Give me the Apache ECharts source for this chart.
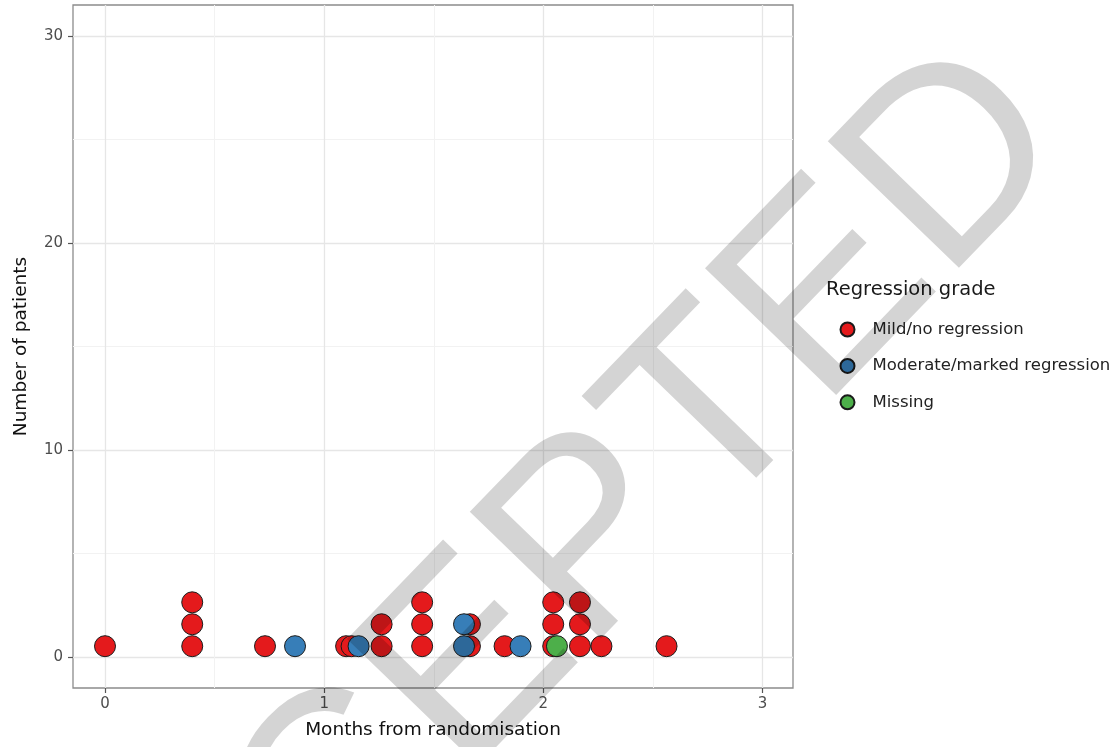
<!DOCTYPE html>
<html>
<head>
<meta charset="utf-8">
<script src="https://cdn.jsdelivr.net/npm/echarts@6/dist/echarts.min.js"></script>
<style>
html,body{margin:0;padding:0;background:#fff;}
#chart{width:1120px;height:747px;}
</style>
</head>
<body>
<div id="chart"></div>
<script>
// ---- data ----
const xTickValues = [0, 1, 2, 3];
const xMinorValues = [0.5, 1.5, 2.5];
const yTickValues = [0, 10, 20, 30];
const yMinorValues = [5, 15, 25];

const groupNames = ['Mild/no regression', 'Moderate/marked regression', 'Missing'];
const groupColors = ['#E41A1C', '#377EB8', '#4DAF4A'];

// months from randomisation and stacked dot height (patients)
const mildMonths  = [0.00, 0.398, 0.398, 0.398, 0.73, 1.10, 1.125, 1.262, 1.262, 1.447, 1.447, 1.447, 1.665, 1.665, 1.823, 2.045, 2.045, 2.045, 2.167, 2.167, 2.167, 2.265, 2.562];
const mildHeights = [0.52, 0.52, 1.58, 2.64, 0.52, 0.52, 0.52, 0.52, 1.58, 0.52, 1.58, 2.64, 0.52, 1.58, 0.52, 0.52, 1.58, 2.64, 0.52, 1.58, 2.64, 0.52, 0.52];

const moderateMonths  = [0.867, 1.157, 1.638, 1.638, 1.896];
const moderateHeights = [0.52, 0.52, 0.52, 1.58, 0.52];

const missingMonths  = [2.062];
const missingHeights = [0.52];

const watermarkText = 'ACCEPTED';

const FONT = 'DejaVu Sans';

function pairs(xs, ys) { return xs.map((x, i) => [x, ys[i]]); }

const seriesData = [
  pairs(mildMonths, mildHeights),
  pairs(moderateMonths, moderateHeights),
  pairs(missingMonths, missingHeights)
];

const chart = echarts.init(document.getElementById('chart'), null, {renderer: 'canvas'});

const option = {
  animation: false,
  backgroundColor: '#ffffff',
  title: {
    text: 'Regression grade',
    left: 826, top: 280, padding: 0,
    textStyle: {fontFamily: FONT, fontSize: 19.5, fontWeight: 'normal', color: '#1a1a1a', lineHeight: 20}
  },
  legend: {
    orient: 'vertical',
    left: 839.5, top: 321, padding: 0,
    itemWidth: 40, itemHeight: 14, itemGap: 19.4,
    icon: 'circle',
    data: groupNames,
    textStyle: {fontFamily: FONT, fontSize: 16.5, color: '#222', lineHeight: 14}
  },
  grid: {
    left: 73, top: 5, width: 720, height: 683,
    show: true, backgroundColor: '#fff', borderColor: '#8c8c8c', borderWidth: 1.3
  },
  xAxis: [
    {
      type: 'value', min: -0.146, max: 3.139,
      name: 'Months from randomisation', nameLocation: 'middle', nameGap: 33,
      nameTextStyle: {fontFamily: FONT, fontSize: 18.5, color: '#111'},
      axisLine: {show: false, onZero: false},
      axisTick: {show: true, length: 5, customValues: xTickValues, lineStyle: {color: '#555', width: 1.2}},
      axisLabel: {customValues: xTickValues, margin: 9, fontFamily: FONT, fontSize: 15, color: '#4d4d4d'},
      splitLine: {show: true, lineStyle: {color: '#e6e6e6', width: 1.3}}
    },
    {
      type: 'value', min: -0.146, max: 3.139, position: 'bottom',
      axisLine: {show: false, onZero: false},
      axisTick: {show: false, customValues: xMinorValues},
      axisLabel: {show: false, customValues: xMinorValues},
      splitLine: {show: true, lineStyle: {color: '#f2f2f2', width: 1}}
    }
  ],
  yAxis: [
    {
      type: 'value', min: -1.5, max: 31.5,
      name: 'Number of patients', nameLocation: 'middle', nameGap: 42,
      nameTextStyle: {fontFamily: FONT, fontSize: 18.5, color: '#111'},
      axisLine: {show: false, onZero: false},
      axisTick: {show: true, length: 5, customValues: yTickValues, lineStyle: {color: '#555', width: 1.2}},
      axisLabel: {customValues: yTickValues, margin: 10, fontFamily: FONT, fontSize: 15, color: '#4d4d4d'},
      splitLine: {show: true, lineStyle: {color: '#e6e6e6', width: 1.3}}
    },
    {
      type: 'value', min: -1.5, max: 31.5, position: 'left',
      axisLine: {show: false, onZero: false},
      axisTick: {show: false, customValues: yMinorValues},
      axisLabel: {show: false, customValues: yMinorValues},
      splitLine: {show: true, lineStyle: {color: '#f2f2f2', width: 1}}
    }
  ],
  series: groupNames.map((name, i) => ({
    name: name,
    type: 'scatter',
    xAxisIndex: 0, yAxisIndex: 0,
    symbol: 'circle',
    symbolSize: 21,
    data: seriesData[i],
    itemStyle: {color: groupColors[i], borderColor: '#1a1a1a', borderWidth: 1, opacity: 1},
    emphasis: {disabled: true},
    z: 2 + i
  })),
  graphic: [
    {
      type: 'text',
      x: 523, y: 614,
      rotation: 46 * Math.PI / 180,
      silent: true,
      z: 100,
      style: {
        text: watermarkText,
        font: 'normal 265px "Liberation Sans"',
        fill: 'rgba(0,0,0,0.17)',
        textAlign: 'center',
        textVerticalAlign: 'middle'
      }
    }
  ]
};

chart.setOption(option);
</script>
</body>
</html>
